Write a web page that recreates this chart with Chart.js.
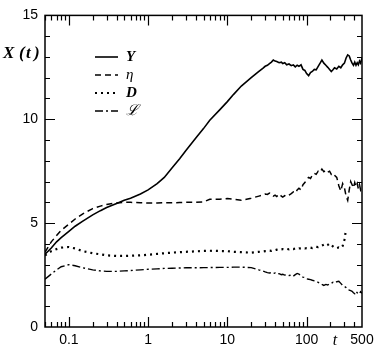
<!DOCTYPE html>
<html>
<head>
<meta charset="utf-8">
<script src="https://cdn.jsdelivr.net/npm/chart.js@4/dist/chart.umd.min.js"></script>
<style>
  html, body { margin: 0; padding: 0; background: #fff; }
  #wrap { width: 382px; height: 356px; }
</style>
</head>
<body>
<div id="wrap"><canvas id="xChart" width="382" height="356"></canvas></div>
<script>
// time points (log axis)
const times = [0.05, 0.06, 0.07, 0.08, 0.1, 0.12, 0.15, 0.2, 0.25, 0.3, 0.4, 0.5, 0.6, 0.8,
  1, 1.3, 1.6, 2, 2.5, 3, 4, 5, 6, 8, 10, 12, 15, 20, 25,
  28, 30, 32, 34, 36, 38, 40, 42, 45, 48,
  50, 53, 56, 60, 64, 68, 72, 76, 80, 85,
  90, 95, 100, 106, 112, 118, 125, 132, 140, 148,
  156, 165, 175, 185, 195, 205, 215, 225, 240, 255,
  270, 285, 300, 315, 330, 345, 360, 375, 390, 405,
  420, 435, 450, 465, 480, 500];

const valY = [3.5, 3.8, 4.1, 4.3, 4.6, 4.85, 5.1, 5.4, 5.6, 5.75, 5.95, 6.1, 6.2, 6.4,
  6.6, 6.9, 7.2, 7.65, 8.1, 8.5, 9.1, 9.55, 9.95, 10.45, 10.85, 11.2, 11.6, 12.0, 12.3,
  12.45, 12.55, 12.6, 12.68, 12.75, 12.85, 12.8, 12.78, 12.72, 12.75,
  12.68, 12.72, 12.62, 12.66, 12.58, 12.62, 12.52, 12.6, 12.55, 12.62,
  12.4, 12.35, 12.2, 12.1, 12.25, 12.3, 12.4, 12.38, 12.55, 12.7,
  12.85, 12.7, 12.6, 12.5, 12.4, 12.3, 12.38, 12.48, 12.42, 12.55,
  12.48, 12.62, 12.7, 12.95, 13.1, 13.05, 12.85, 12.7, 12.6, 12.75,
  12.6, 12.72, 12.62, 12.8, 12.7, 12.95];

const valEta = [3.6, 4.1, 4.4, 4.65, 4.95, 5.2, 5.45, 5.7, 5.82, 5.9, 5.97, 6.0, 6.0, 5.98,
  5.97, 5.97, 5.98, 5.98, 5.99, 6.0, 6.0, 6.02, 6.15, 6.15, 6.18, 6.15, 6.1, 6.2, 6.3,
  6.35, 6.4, 6.38, 6.45, 6.4, 6.3, 6.35, 6.28, 6.4, 6.3,
  6.25, 6.32, 6.28, 6.35, 6.42, 6.5, 6.45, 6.6, 6.68, 6.6,
  6.85, 6.95, 7.1, 7.2, 7.15, 7.3, 7.4, 7.35, 7.5, 7.45,
  7.6, 7.48, 7.55, 7.45, 7.5, 7.35, 7.4, 7.3, 7.2, 6.8,
  6.55, 6.9, 6.7, 6.3, 6.1, 6.6, 7.0, 6.85, 6.7, 6.95,
  6.75, 6.9, 6.65, 6.85, 6.6, 6.75];

const valD = [3.45, 3.65, 3.75, 3.82, 3.85, 3.78, 3.65, 3.55, 3.5, 3.45, 3.42, 3.42, 3.43, 3.45,
  3.48, 3.52, 3.55, 3.58, 3.6, 3.62, 3.64, 3.66, 3.67, 3.66, 3.65, 3.62, 3.6, 3.58, 3.62,
  3.63, 3.65, 3.66, 3.68, 3.67, 3.7, 3.7, 3.72, 3.71, 3.74,
  3.75, 3.73, 3.76, 3.74, 3.77, 3.75, 3.78, 3.76, 3.79, 3.77,
  3.8, 3.78, 3.8, 3.79, 3.82, 3.8, 3.84, 3.86, 3.85, 3.9,
  3.92, 3.96, 3.9, 3.95, 4.02, 3.95, 3.88, 3.82, 3.8, 3.83,
  3.8, 3.9, 4.2, 4.7, null, null, null, null, null, null,
  null, null, null, null, null, null];

const valL = [2.3, 2.55, 2.75, 2.9, 3.0, 2.95, 2.85, 2.75, 2.7, 2.68, 2.68, 2.7, 2.72, 2.75,
  2.78, 2.8, 2.82, 2.83, 2.84, 2.85, 2.85, 2.86, 2.86, 2.87, 2.87, 2.88, 2.88, 2.86, 2.75,
  2.7, 2.65, 2.62, 2.6, 2.62, 2.58, 2.6, 2.55, 2.57, 2.52,
  2.54, 2.5, 2.52, 2.48, 2.5, 2.45, 2.52, 2.58, 2.55, 2.45,
  2.4, 2.38, 2.32, 2.3, 2.28, 2.25, 2.22, 2.2, 2.15, 2.1,
  2.05, 2.0, 2.05, 2.02, 2.08, 2.1, 2.15, 2.12, 2.18, 2.2,
  2.1, 2.0, 1.95, 1.9, 1.82, 1.78, 1.75, 1.72, 1.65, 1.6,
  1.72, 1.65, 1.58, 1.62, 1.7, 1.62];

const xTickLabels = [0.1, 1, 10, 100, 500];
const yTickLabels = [0, 5, 10, 15];
const seriesNames = ['Y', 'η', 'D', 'ℒ'];

const xMinor = [0.05, 0.06, 0.07, 0.08, 0.09, 0.2, 0.3, 0.4, 0.5, 0.6, 0.7, 0.8, 0.9,
  2, 3, 4, 5, 6, 7, 8, 9, 20, 30, 40, 50, 60, 70, 80, 90, 200, 300, 400];

function pts(vals) {
  return times.map((t, i) => ({ x: t, y: vals[i] }));
}

const dashes = [[], [6, 4], [2, 4], [8, 3, 2, 3]];
const widths = [1.6, 1.5, 2.2, 1.4];
const legendFonts = ['bold italic 15px "Liberation Serif"', 'italic 15px "Liberation Serif"',
  'bold italic 15px "Liberation Serif"', 'italic 15px "Liberation Serif"'];

// frame, inward ticks, legend and axis titles
const framePlugin = {
  id: 'frame',
  afterDraw(chart) {
    const ctx = chart.ctx;
    const a = chart.chartArea;
    const xs = chart.scales.x, ys = chart.scales.y;
    ctx.save();
    ctx.strokeStyle = '#000';
    ctx.lineWidth = 1.5;
    ctx.strokeRect(a.left, a.top, a.right - a.left, a.bottom - a.top);

    ctx.lineWidth = 1.2;
    ctx.beginPath();
    const xt = (v, len) => {
      const px = Math.round(xs.getPixelForValue(v)) + 0.5;
      ctx.moveTo(px, a.bottom); ctx.lineTo(px, a.bottom - len);
      ctx.moveTo(px, a.top); ctx.lineTo(px, a.top + len);
    };
    xTickLabels.forEach(v => { if (v < 500) xt(v, 10); });
    xMinor.forEach(v => xt(v, 5));
    for (let v = 1; v < 15; v++) {
      const py = Math.round(ys.getPixelForValue(v)) + 0.5;
      const len = v % 5 === 0 ? 10 : 5;
      ctx.moveTo(a.left, py); ctx.lineTo(a.left + len, py);
      ctx.moveTo(a.right, py); ctx.lineTo(a.right - len, py);
    }
    ctx.stroke();

    // legend
    const ly = [57, 75, 93, 111];
    seriesNames.forEach((name, i) => {
      ctx.beginPath();
      ctx.setLineDash(dashes[i]);
      ctx.lineWidth = widths[i];
      ctx.moveTo(95, ly[i]); ctx.lineTo(118, ly[i]);
      ctx.stroke();
      ctx.setLineDash([]);
      ctx.fillStyle = '#000';
      ctx.font = legendFonts[i];
      ctx.textBaseline = 'middle';
      ctx.textAlign = 'left';
      ctx.fillText(name, 126, ly[i]);
    });

    // axis titles
    ctx.font = 'bold italic 17px "Liberation Serif"';
    ctx.textBaseline = 'middle';
    ctx.fillText('X', 3, 54);
    ctx.fillText('(', 19, 54);
    ctx.fillText('t', 26, 54);
    ctx.fillText(')', 34, 54);
    ctx.font = 'italic 16px "Liberation Serif"';
    ctx.textAlign = 'center';
    ctx.fillText('t', 335, 341);
    ctx.restore();
  }
};

const ctx = document.getElementById('xChart').getContext('2d');
new Chart(ctx, {
  type: 'line',
  data: {
    datasets: [valY, valEta, valD, valL].map((vals, i) => ({
      label: seriesNames[i],
      data: pts(vals),
      borderColor: '#000',
      borderWidth: widths[i],
      borderDash: dashes[i],
      pointRadius: 0,
      tension: 0,
      fill: false,
      spanGaps: false
    }))
  },
  options: {
    responsive: false,
    animation: false,
    devicePixelRatio: 1,
    layout: { padding: { top: 12, right: 20, left: 0, bottom: 0 } },
    plugins: { legend: { display: false }, tooltip: { enabled: false } },
    scales: {
      x: {
        type: 'logarithmic',
        min: 0.05,
        max: 500,
        afterBuildTicks(scale) {
          scale.ticks = xTickLabels.map(v => ({ value: v }));
        },
        afterFit(scale) { scale.height = 29; },
        grid: { display: false, drawTicks: false },
        border: { display: false },
        ticks: {
          autoSkip: false,
          maxRotation: 0,
          padding: 5,
          color: '#000',
          font: { family: '"Liberation Sans"', size: 14 },
          callback: v => String(v)
        }
      },
      y: {
        type: 'linear',
        min: 0,
        max: 15,
        afterBuildTicks(scale) {
          scale.ticks = yTickLabels.map(v => ({ value: v }));
        },
        afterFit(scale) { scale.width = 45; },
        grid: { display: false, drawTicks: false },
        border: { display: false },
        ticks: {
          padding: 7,
          color: '#000',
          font: { family: '"Liberation Sans"', size: 14 },
          callback: v => String(v)
        }
      }
    }
  },
  plugins: [framePlugin]
});
</script>
</body>
</html>
